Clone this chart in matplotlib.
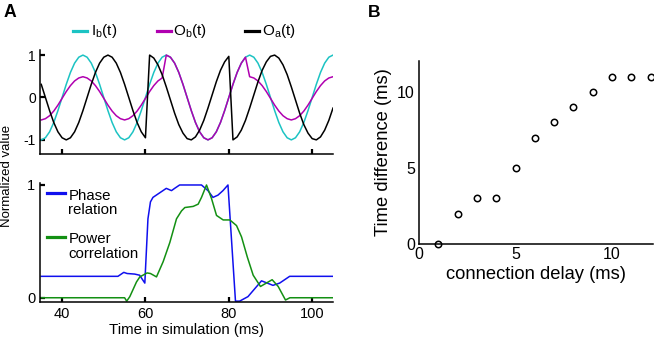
import matplotlib
matplotlib.use('Agg')
import matplotlib.pyplot as plt
from matplotlib.lines import Line2D

plt.rcParams['font.family'] = ['Liberation Sans', 'DejaVu Sans']
plt.rcParams['axes.unicode_minus'] = False
plt.rcParams['mathtext.default'] = 'regular'

# ---------------- data ----------------
t_top = list(range(35, 106))
ib = [-1, -0.95, -0.81, -0.59, -0.31, 0, 0.31, 0.59, 0.81, 0.95,
      1, 0.95, 0.81, 0.59, 0.31, 0, -0.31, -0.59, -0.81, -0.95,
      -1, -0.95, -0.81, -0.59, -0.31, 0, 0.31, 0.59, 0.81, 0.95,
      1, 0.95, 0.81, 0.59, 0.31, 0, -0.31, -0.59, -0.81, -0.95,
      -1, -0.95, -0.81, -0.59, -0.31, 0, 0.31, 0.59, 0.81, 0.95,
      1, 0.95, 0.81, 0.59, 0.31, 0, -0.31, -0.59, -0.81, -0.95,
      -1, -0.95, -0.81, -0.59, -0.31, 0, 0.31, 0.59, 0.81, 0.95,
      1]
ob = [-0.53, -0.50, -0.43, -0.32, -0.18, -0.02, 0.14, 0.28, 0.39, 0.46,
      0.49, 0.46, 0.39, 0.28, 0.14, -0.02, -0.18, -0.32, -0.43, -0.50,
      -0.53, -0.50, -0.43, -0.32, -0.18, -0.02, 0.14, 0.28, 0.39, 0.46,
      1.0, 0.95, 0.81, 0.59, 0.31, 0, -0.31, -0.59, -0.81, -0.95,
      -1, -0.95, -0.81, -0.59, -0.31, 0, 0.31, 0.59, 0.81, 0.95,
      0.49, 0.46, 0.39, 0.28, 0.14, -0.02, -0.18, -0.32, -0.43, -0.50,
      -0.53, -0.50, -0.43, -0.32, -0.18, -0.02, 0.14, 0.28, 0.39, 0.46,
      0.49]
oa = [0.31, 0, -0.31, -0.59, -0.81, -0.95, -1, -0.95, -0.81, -0.59,
      -0.31, 0, 0.31, 0.59, 0.81, 0.95, 1, 0.95, 0.81, 0.59,
      0.31, 0, -0.31, -0.59, -0.81, -0.95,
      1.0, 0.93, 0.77, 0.54, 0.25, -0.06, -0.37, -0.64, -0.84, -0.97,
      -1.0, -0.93, -0.77, -0.54, -0.25, 0.06, 0.37, 0.64, 0.84, 0.97,
      -1.0, -0.93, -0.77, -0.54, -0.25, 0.06, 0.37, 0.64, 0.84, 0.97,
      1.0, 0.93, 0.77, 0.54, 0.25, -0.06, -0.37, -0.64, -0.84, -0.97,
      -1.0, -0.93, -0.77, -0.54, -0.25]

t_phase = [35, 53.4, 54.8, 55.6, 57.4, 58.6, 59.85, 60.6, 61.2, 61.8, 64.2, 65.0,
           66.25, 67.0, 68.2, 73.45, 75.0, 76.2, 77.4, 78.6, 79.8, 81.6, 82.6,
           84.6, 87.85, 90.6, 92.2, 94.6, 105]
phase = [0.19, 0.19, 0.225, 0.215, 0.21, 0.2, 0.13, 0.70, 0.85, 0.89, 0.95, 0.97,
         0.95, 0.97, 1.0, 1.0, 0.95, 0.89, 0.91, 0.95, 1.0, -0.03, -0.03,
         0.01, 0.15, 0.11, 0.13, 0.19, 0.19]

t_power = [35, 55.0, 55.5, 56.25, 57.85, 58.65, 60.4, 61.2, 62.65, 64.25, 65.85,
           67.45, 68.65, 69.45, 71.45, 72.65, 73.45, 74.65, 75.85, 77.05, 78.65,
           80.25, 81.85, 83.05, 84.45, 85.85, 87.6, 89.0, 90.4, 91.85, 93.6,
           94.65, 105]
power = [0.0, 0.0, -0.03, 0.01, 0.14, 0.185, 0.22, 0.215, 0.185, 0.32, 0.49,
         0.70, 0.77, 0.80, 0.81, 0.83, 0.89, 1.0, 0.88, 0.73, 0.69,
         0.69, 0.64, 0.54, 0.36, 0.20, 0.10, 0.13, 0.16, 0.10, -0.02,
         0.0, 0.0]

delay = [1, 2, 3, 4, 5, 6, 7, 8, 9, 10, 11, 12]
tdiff = [0, 2, 3, 3, 5, 7, 8, 9, 10, 11, 11, 11]

time_ticks = [40, 60, 80, 100]

C_IB = '#1cc3c3'
C_OB = '#b000b0'
C_OA = '#000000'
C_PH = '#1010ee'
C_PW = '#139013'

# ---------------- figure ----------------
W, H = 654, 337
fig = plt.figure(figsize=(W / 100, H / 100), dpi=100)


def ax_px(l, t, r, b):
    return fig.add_axes([l / W, 1 - b / H, (r - l) / W, (b - t) / H])


def fx(x):
    return x / W


def fy(y):
    return 1 - y / H


def style(ax):
    for s in ('top', 'right'):
        ax.spines[s].set_visible(False)
    for s in ('left', 'bottom'):
        ax.spines[s].set_linewidth(1.1)


ax1 = ax_px(40, 50, 333, 154.3)
ax2 = ax_px(40, 182.5, 333, 301.7)
ax3 = ax_px(419, 61, 653, 244)

# top panel A
ax1.plot(t_top, ib, color=C_IB, lw=1.1)
ax1.plot(t_top, ob, color=C_OB, lw=1.1)
ax1.plot(t_top, oa, color=C_OA, lw=1.1)
ax1.set_xlim(34.7, 105)
ax1.set_ylim(-1.34, 1.12)
ax1.set_xticks(time_ticks)
ax1.set_xticklabels([])
ax1.set_yticks([-1, 0, 1])
ax1.set_yticklabels(['-1', '0', '1'])
ax1.tick_params(direction='in', length=3.5, width=1.6, labelsize=10, pad=3)
style(ax1)

# bottom panel A
ax2.plot(t_phase, phase, color=C_PH, lw=1.1)
ax2.plot(t_power, power, color=C_PW, lw=1.1)
ax2.set_xlim(34.7, 105)
ax2.set_ylim(-0.035, 1.022)
ax2.set_xticks(time_ticks)
ax2.set_yticks([0, 1])
ax2.tick_params(direction='in', length=3.5, width=1.6, labelsize=10.5, pad=3.5)
ax2.set_xlabel('Time in simulation (ms)', fontsize=10.8, labelpad=1.5)
style(ax2)

# panel B
ax3.plot(delay, tdiff, 'o', mfc='none', mec='black', ms=4.6, mew=1.1,
         clip_on=False, zorder=3)
ax3.set_xlim(0, 12.12)
ax3.set_ylim(0, 12.04)
ax3.set_xticks([0, 5, 10])
ax3.set_yticks([0, 5, 10])
ax3.tick_params(length=0, labelsize=11.5)
ax3.tick_params(axis='x', pad=2)
ax3.tick_params(axis='y', pad=3)
ax3.set_xlabel('connection delay (ms)', fontsize=13.2, labelpad=3)
ax3.set_ylabel('Time difference (ms)', fontsize=13.2, labelpad=4)
style(ax3)

# shared y label for panel A
fig.text(fx(7), fy(176), 'Normalized value', rotation=90, ha='center',
         va='center', fontsize=9.5)

# panel letters
fig.text(fx(3.3), fy(16.7), 'A', fontsize=12.7, fontweight='bold',
         ha='left', va='baseline')
fig.text(fx(368), fy(16.7), 'B', fontsize=12.5, fontweight='bold',
         ha='left', va='baseline')

# legend for top panel (row above axes)
top_leg = [(73.3, 87.3, 90.7, C_IB, r'$\mathregular{I_b(t)}$'),
           (156.7, 170.7, 173.3, C_OB, r'$\mathregular{O_b(t)}$'),
           (245, 259.3, 262.5, C_OA, r'$\mathregular{O_a(t)}$')]
for x0, x1, xt, c, lab in top_leg:
    fig.add_artist(Line2D([fx(x0), fx(x1)], [fy(30.7), fy(30.7)],
                          transform=fig.transFigure, color=c, lw=2.3))
    fig.text(fx(xt), fy(34.5), lab, fontsize=11, ha='left', va='baseline')

# legend for bottom panel (handle aligned with first text line)
bot_leg = [(193.3, 200, C_PH, 'Phase', 'relation'),
           (237.3, 243.3, C_PW, 'Power', 'correlation')]
for yl, yb, c, l1, l2 in bot_leg:
    fig.add_artist(Line2D([fx(46.7), fx(65)], [fy(yl), fy(yl)],
                          transform=fig.transFigure, color=c, lw=2.3))
    fig.text(fx(68.3), fy(yb), l1 + '\n' + l2, fontsize=10.8, ha='left',
             va='top', linespacing=1.05,
             transform=fig.transFigure).set_y(fy(yb - 11.2))

fig.savefig('out.png', dpi=100)
